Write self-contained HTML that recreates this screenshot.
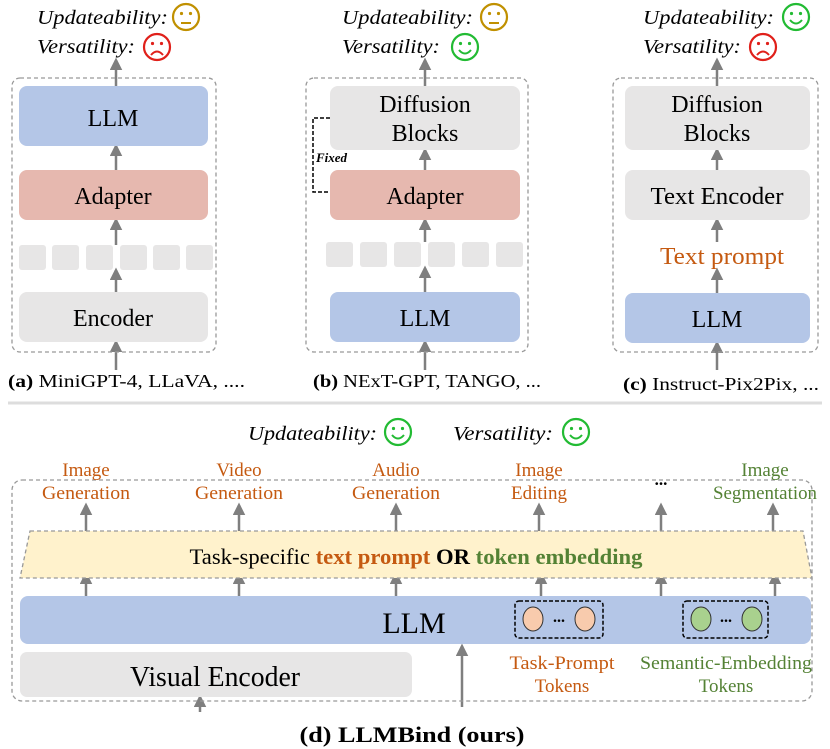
<!DOCTYPE html>
<html><head><meta charset="utf-8"><style>body{margin:0;background:#fff}svg{display:block}text{font-family:"Liberation Serif",serif}</style></head><body>
<svg width="830" height="749" viewBox="0 0 830 749" xmlns="http://www.w3.org/2000/svg">
<defs>
<marker id="ar" viewBox="0 0 10 10" refX="8" refY="5" markerWidth="5" markerHeight="5" orient="auto"><path d="M0,0L10,5L0,10z" fill="#7f7f7f"/></marker>
<g id="neu"><circle r="13" fill="none" stroke="#c09000" stroke-width="2.2"/><circle cx="-4.5" cy="-3.5" r="1.6" fill="#c09000"/><circle cx="4.5" cy="-3.5" r="1.6" fill="#c09000"/><line x1="-5" y1="6" x2="5" y2="6" stroke="#c09000" stroke-width="2"/></g>
<g id="sad"><circle r="13" fill="none" stroke="#e0201a" stroke-width="2.2"/><circle cx="-4.5" cy="-3.5" r="1.6" fill="#e0201a"/><circle cx="4.5" cy="-3.5" r="1.6" fill="#e0201a"/><path d="M-6,8Q0,1 6,8" fill="none" stroke="#e0201a" stroke-width="2"/></g>
<g id="hap"><circle r="13" fill="none" stroke="#22bb33" stroke-width="2.2"/><circle cx="-4.5" cy="-3.5" r="1.6" fill="#22bb33"/><circle cx="4.5" cy="-3.5" r="1.6" fill="#22bb33"/><path d="M-6,3Q0,10 6,3" fill="none" stroke="#22bb33" stroke-width="2"/></g>
</defs>
<g stroke="#7f7f7f" stroke-width="2.5" marker-end="url(#ar)">
<line x1="116" y1="86" x2="116" y2="60"/><line x1="116" y1="170" x2="116" y2="146"/><line x1="116" y1="245" x2="116" y2="220"/><line x1="116" y1="292" x2="116" y2="270"/><line x1="116" y1="370" x2="116" y2="342"/>
<line x1="425" y1="86" x2="425" y2="60"/><line x1="425" y1="170" x2="425" y2="150"/><line x1="425" y1="242" x2="425" y2="220"/><line x1="425" y1="292" x2="425" y2="268"/><line x1="425" y1="370" x2="425" y2="342"/>
<line x1="717" y1="86" x2="717" y2="60"/><line x1="717" y1="170" x2="717" y2="150"/><line x1="717" y1="242" x2="717" y2="220"/><line x1="717" y1="293" x2="717" y2="270"/><line x1="717" y1="370" x2="717" y2="343"/>
<line x1="86" y1="532" x2="86" y2="505"/><line x1="239" y1="532" x2="239" y2="505"/><line x1="396" y1="532" x2="396" y2="505"/><line x1="539" y1="532" x2="539" y2="505"/><line x1="661" y1="532" x2="661" y2="505"/><line x1="773" y1="532" x2="773" y2="505"/>
<line x1="86" y1="596" x2="86" y2="574"/><line x1="239" y1="596" x2="239" y2="574"/><line x1="396" y1="596" x2="396" y2="574"/><line x1="541" y1="596" x2="541" y2="574"/><line x1="661" y1="596" x2="661" y2="574"/><line x1="775" y1="596" x2="775" y2="574"/>
<line x1="462" y1="707" x2="462" y2="646"/><line x1="200" y1="712" x2="200" y2="697"/>
</g>
<g fill="none" stroke="#999" stroke-width="1.3" stroke-dasharray="4,3">
<rect x="12" y="78" width="204" height="274" rx="8"/><rect x="306" y="78" width="222" height="274" rx="8"/><rect x="613" y="78" width="205" height="274" rx="8"/><rect x="12" y="480" width="800" height="221" rx="10"/>
</g>
<line x1="8" y1="403" x2="822" y2="403" stroke="#ddd" stroke-width="3"/>
<rect x="19" y="86" width="189" height="60" rx="8" fill="#b4c6e7"/>
<rect x="19" y="170" width="189" height="50" rx="8" fill="#e6b8af"/>
<g fill="#e7e6e6"><rect x="19" y="245" width="27" height="25" rx="3"/><rect x="52" y="245" width="27" height="25" rx="3"/><rect x="86" y="245" width="27" height="25" rx="3"/><rect x="120" y="245" width="27" height="25" rx="3"/><rect x="153" y="245" width="27" height="25" rx="3"/><rect x="186" y="245" width="27" height="25" rx="3"/>
<rect x="19" y="292" width="189" height="50" rx="8"/>
<rect x="330" y="86" width="190" height="64" rx="8"/>
<rect x="326" y="242" width="27" height="25" rx="3"/><rect x="360" y="242" width="27" height="25" rx="3"/><rect x="394" y="242" width="27" height="25" rx="3"/><rect x="428" y="242" width="27" height="25" rx="3"/><rect x="462" y="242" width="27" height="25" rx="3"/><rect x="496" y="242" width="27" height="25" rx="3"/>
<rect x="625" y="86" width="185" height="64" rx="8"/><rect x="625" y="170" width="185" height="50" rx="8"/>
<rect x="20" y="652" width="392" height="45" rx="7"/></g>
<rect x="330" y="170" width="190" height="50" rx="8" fill="#e6b8af"/>
<rect x="330" y="292" width="190" height="50" rx="8" fill="#b4c6e7"/>
<rect x="625" y="293" width="185" height="50" rx="8" fill="#b4c6e7"/>
<path d="M330,118H313V192H330" fill="none" stroke="#000" stroke-width="1.5" stroke-dasharray="4,2"/>
<text x="316" y="162" font-size="13" font-weight="bold" font-style="italic">Fixed</text>
<g font-size="24" text-anchor="middle">
<text x="113" y="126">LLM</text><text x="113" y="204">Adapter</text><text x="113" y="326">Encoder</text>
<text x="425" y="112">Diffusion</text><text x="425" y="141">Blocks</text><text x="425" y="204">Adapter</text><text x="425" y="326">LLM</text>
<text x="717" y="112">Diffusion</text><text x="717" y="141">Blocks</text><text x="717" y="204" textLength="133" lengthAdjust="spacingAndGlyphs">Text Encoder</text><text x="722" y="264" fill="#c55a11" textLength="124" lengthAdjust="spacingAndGlyphs">Text prompt</text><text x="717" y="327">LLM</text>
</g>
<g font-size="20" font-style="italic">
<text x="37" y="24" textLength="131" lengthAdjust="spacingAndGlyphs">Updateability:</text><text x="37" y="53" textLength="98" lengthAdjust="spacingAndGlyphs">Versatility:</text>
<text x="342" y="24" textLength="131" lengthAdjust="spacingAndGlyphs">Updateability:</text><text x="342" y="53" textLength="98" lengthAdjust="spacingAndGlyphs">Versatility:</text>
<text x="643" y="24" textLength="131" lengthAdjust="spacingAndGlyphs">Updateability:</text><text x="643" y="53" textLength="98" lengthAdjust="spacingAndGlyphs">Versatility:</text>
<text x="248" y="440" textLength="129" lengthAdjust="spacingAndGlyphs">Updateability:</text><text x="453" y="440" textLength="100" lengthAdjust="spacingAndGlyphs">Versatility:</text>
</g>
<use href="#neu" x="186" y="17"/><use href="#sad" x="157" y="47"/>
<use href="#neu" x="494" y="17"/><use href="#hap" x="465" y="47"/>
<use href="#hap" x="796" y="17"/><use href="#sad" x="763" y="47"/>
<use href="#hap" x="398" y="432"/><use href="#hap" x="576" y="432"/>
<g font-size="18"><text x="8" y="387" textLength="237" lengthAdjust="spacingAndGlyphs"><tspan font-weight="bold">(a)</tspan> MiniGPT-4, LLaVA, ....</text>
<text x="313" y="387" textLength="228" lengthAdjust="spacingAndGlyphs"><tspan font-weight="bold">(b)</tspan> NExT-GPT, TANGO, ...</text>
<text x="623" y="390" textLength="196" lengthAdjust="spacingAndGlyphs"><tspan font-weight="bold">(c)</tspan> Instruct-Pix2Pix, ...</text></g>
<g font-size="19" text-anchor="middle" fill="#c55a11">
<text x="86" y="476">Image</text><text x="86" y="499" textLength="88" lengthAdjust="spacingAndGlyphs">Generation</text>
<text x="239" y="476">Video</text><text x="239" y="499" textLength="88" lengthAdjust="spacingAndGlyphs">Generation</text>
<text x="396" y="476">Audio</text><text x="396" y="499" textLength="88" lengthAdjust="spacingAndGlyphs">Generation</text>
<text x="539" y="476">Image</text><text x="539" y="499">Editing</text>
<text x="562" y="669" textLength="105" lengthAdjust="spacingAndGlyphs">Task-Prompt</text><text x="562" y="692">Tokens</text>
<g fill="#548235"><text x="765" y="476">Image</text><text x="765" y="499" textLength="104" lengthAdjust="spacingAndGlyphs">Segmentation</text><text x="726" y="669" textLength="172" lengthAdjust="spacingAndGlyphs">Semantic-Embedding</text><text x="726" y="692">Tokens</text></g>
</g>
<text x="661" y="485" font-size="17" font-weight="bold" text-anchor="middle">...</text>
<path d="M30,531H803L812,578H20Z" fill="#fff2cc" stroke="#999" stroke-width="1.3" stroke-dasharray="4,3"/>
<text x="416" y="564" font-size="22" text-anchor="middle" textLength="453" lengthAdjust="spacingAndGlyphs">Task-specific <tspan fill="#c55a11" font-weight="bold">text prompt</tspan> <tspan font-weight="bold">OR</tspan> <tspan fill="#548235" font-weight="bold">token embedding</tspan></text>
<rect x="20" y="596" width="791" height="48" rx="8" fill="#b4c6e7"/>
<text x="414" y="633" font-size="30" text-anchor="middle">LLM</text>
<g fill="none" stroke="#000" stroke-width="1.5" stroke-dasharray="4,2"><rect x="515" y="601" width="88" height="37" rx="4"/><rect x="683" y="601" width="85" height="37" rx="4"/></g>
<g stroke="#333" stroke-width="1"><ellipse cx="533" cy="619" rx="10" ry="12" fill="#f8cbad"/><ellipse cx="585" cy="619" rx="10" ry="12" fill="#f8cbad"/><ellipse cx="701" cy="619" rx="10" ry="12" fill="#a9d18e"/><ellipse cx="752" cy="619" rx="10" ry="12" fill="#a9d18e"/></g>
<text x="559" y="622" font-size="16" font-weight="bold" text-anchor="middle">...</text><text x="726" y="622" font-size="16" font-weight="bold" text-anchor="middle">...</text>
<text x="215" y="686" font-size="28" text-anchor="middle" textLength="170" lengthAdjust="spacingAndGlyphs">Visual Encoder</text>
<text x="412" y="742" font-size="22" font-weight="bold" text-anchor="middle" textLength="225" lengthAdjust="spacingAndGlyphs">(d) LLMBind (ours)</text>
</svg>
</body></html>
